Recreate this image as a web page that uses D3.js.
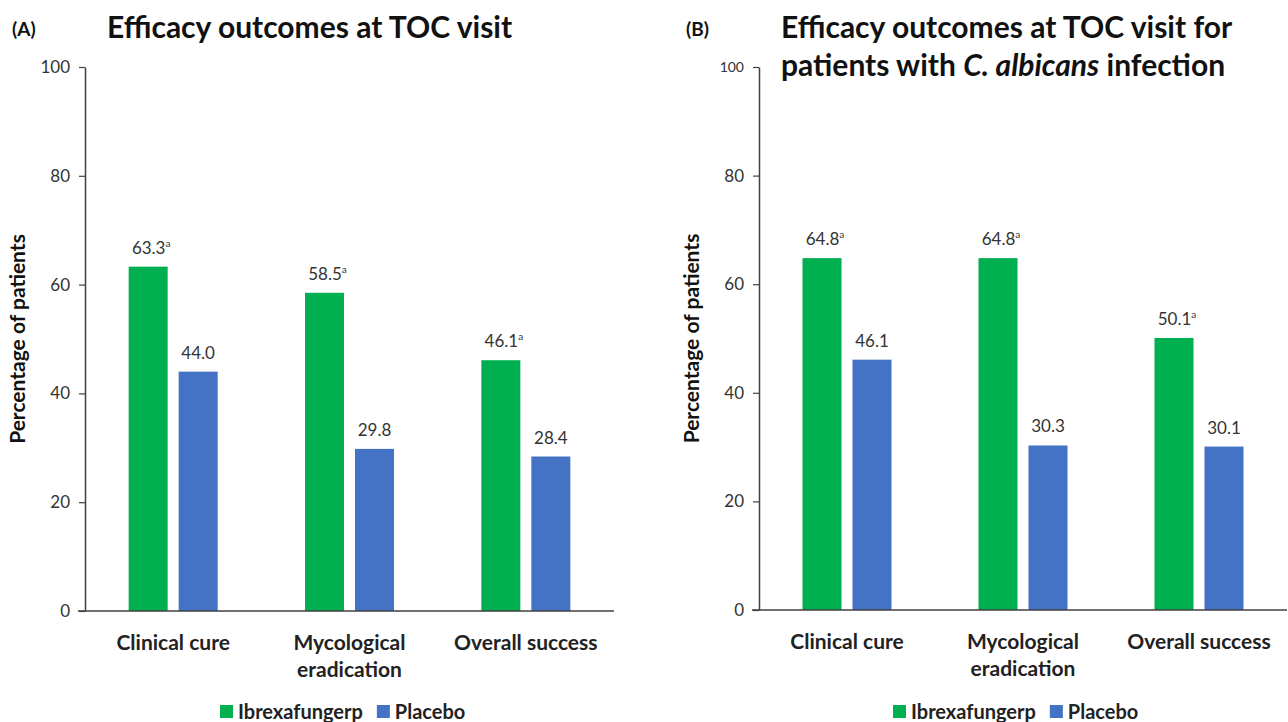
<!DOCTYPE html>
<html>
<head>
<meta charset="utf-8">
<title>Efficacy outcomes at TOC visit</title>
<script src="https://d3js.org/d3.v7.min.js"></script>
<style>
    body { margin: 0; background: #fff; }
    svg text { font-family: Lato, "Open Sans", sans-serif; }
</style>
</head>
<body>
<script>
    // data
    const categories = ["Clinical cure", "Mycological eradication", "Overall success"];
    const categoryLines = [["Clinical cure"], ["Mycological", "eradication"], ["Overall success"]];
    const seriesNames = ["Ibrexafungerp", "Placebo"];
    const seriesColors = ["#00B050", "#4472C4"];
    const ibrexA = [63.3, 58.5, 46.1];
    const placeboA = [44.0, 29.8, 28.4];
    const ibrexB = [64.8, 64.8, 50.1];
    const placeboB = [46.1, 30.3, 30.1];
    const footnoteMark = ["a", ""];   // ibrexafungerp values carry superscript a
    const yTicks = [0, 20, 40, 60, 80, 100];

    const svg = d3.select("body").append("svg")
        .attr("width", 1288)
        .attr("height", 722);

    function drawPanel(opt) {
        const g = svg.append("g");
        const x0 = d3.scaleBand().domain(categories).range([opt.left, opt.right]);
        const x1 = d3.scaleBand().domain(seriesNames).range([0, 89]).paddingInner(0.22);
        const y = d3.scaleLinear().domain([0, 100]).range([opt.bottom, 67]);

        const rows = categories.map((c, i) => ({
            cat: c,
            vals: [opt.ibrex[i], opt.placebo[i]]
        }));

        // bars
        rows.forEach(r => {
            r.vals.forEach((v, k) => {
                const bx = x0(r.cat) + x0.bandwidth() / 2 - 44.5 + x1(seriesNames[k]);
                g.append("rect")
                    .attr("x", bx)
                    .attr("y", y(v))
                    .attr("width", x1.bandwidth())
                    .attr("height", y(0) - y(v))
                    .attr("fill", seriesColors[k]);
                const t = g.append("text")
                    .attr("x", bx + x1.bandwidth() / 2 + (footnoteMark[k] ? 3 : 0))
                    .attr("y", y(v) - 13)
                    .attr("text-anchor", "middle")
                    .attr("font-size", 17)
                    .attr("fill", "#333")
                    .text(v.toFixed(1));
                if (footnoteMark[k]) {
                    t.append("tspan")
                        .attr("dy", -7)
                        .attr("font-size", 10)
                        .text(footnoteMark[k]);
                }
            });
        });

        // y axis
        const yAxis = d3.axisLeft(y).tickValues(yTicks).tickSize(6).tickSizeOuter(0).tickPadding(9);
        const ya = g.append("g").attr("transform", `translate(${opt.left},0)`).call(yAxis);
        ya.select(".domain").attr("stroke", "#404040").attr("stroke-width", 1.5);
        ya.selectAll(".tick line").attr("stroke", "#404040").attr("stroke-width", 1.2);
        ya.selectAll(".tick text")
            .attr("font-size", d => (d === 100 && opt.small100) ? 14 : 17)
            .attr("font-family", "Lato, sans-serif")
            .attr("fill", "#333");

        // baseline
        g.append("line")
            .attr("x1", opt.left - 7).attr("x2", opt.right)
            .attr("y1", y(0)).attr("y2", y(0))
            .attr("stroke", "#404040").attr("stroke-width", 1.5);

        // category labels
        categories.forEach((c, i) => {
            const t = g.append("text")
                .attr("x", x0(c) + x0.bandwidth() / 2)
                .attr("y", opt.bottom + 39)
                .attr("text-anchor", "middle")
                .attr("font-size", 21)
                .attr("font-weight", "bold")
                .attr("fill", "#222");
            categoryLines[i].forEach((line, j) => {
                t.append("tspan")
                    .attr("x", x0(c) + x0.bandwidth() / 2)
                    .attr("dy", j === 0 ? 0 : 27)
                    .text(line);
            });
        });

        // y label
        g.append("text")
            .attr("transform", `translate(${opt.left - 60},${(y(0) + y(100)) / 2}) rotate(-90)`)
            .attr("text-anchor", "middle")
            .attr("font-size", 21)
            .attr("font-weight", "bold")
            .attr("fill", "#111")
            .text("Percentage of patients");

        // panel letter + title
        g.append("text")
            .attr("x", opt.left - 73).attr("y", 36)
            .attr("font-family", "Liberation Sans, Arial, sans-serif")
            .attr("font-size", 19).attr("font-weight", "bold")
            .attr("fill", "#111")
            .text(opt.letter);
        opt.title.forEach((line, j) => {
            const t = g.append("text")
                .attr("x", opt.left + 22).attr("y", 38 + j * 38)
                .attr("font-size", 30).attr("font-weight", "bold")
                .attr("fill", "#111");
            line.forEach(part => {
                t.append("tspan")
                    .attr("font-style", part.italic ? "italic" : "normal")
                    .text(part.s);
            });
        });

        // legend
        let lx = opt.legendX;
        seriesNames.forEach((s, k) => {
            g.append("rect")
                .attr("x", lx).attr("y", 705)
                .attr("width", 13).attr("height", 13)
                .attr("fill", seriesColors[k]);
            const t = g.append("text")
                .attr("x", lx + 18).attr("y", 719)
                .attr("font-size", 20).attr("font-weight", "bold")
                .attr("fill", "#222")
                .text(s);
            lx += t.node().getComputedTextLength() + 32;
        });
    }

    drawPanel({
        left: 85, right: 614, bottom: 611,
        ibrex: ibrexA, placebo: placeboA,
        letter: "(A)",
        title: [[{ s: "Efficacy outcomes at TOC visit" }]],
        legendX: 220, small100: false
    });

    drawPanel({
        left: 759, right: 1287, bottom: 610,
        ibrex: ibrexB, placebo: placeboB,
        letter: "(B)",
        title: [
            [{ s: "Efficacy outcomes at TOC visit for" }],
            [{ s: "patients with " }, { s: "C. albicans", italic: true }, { s: " infection" }]
        ],
        legendX: 893, small100: true
    });
</script>
</body>
</html>
